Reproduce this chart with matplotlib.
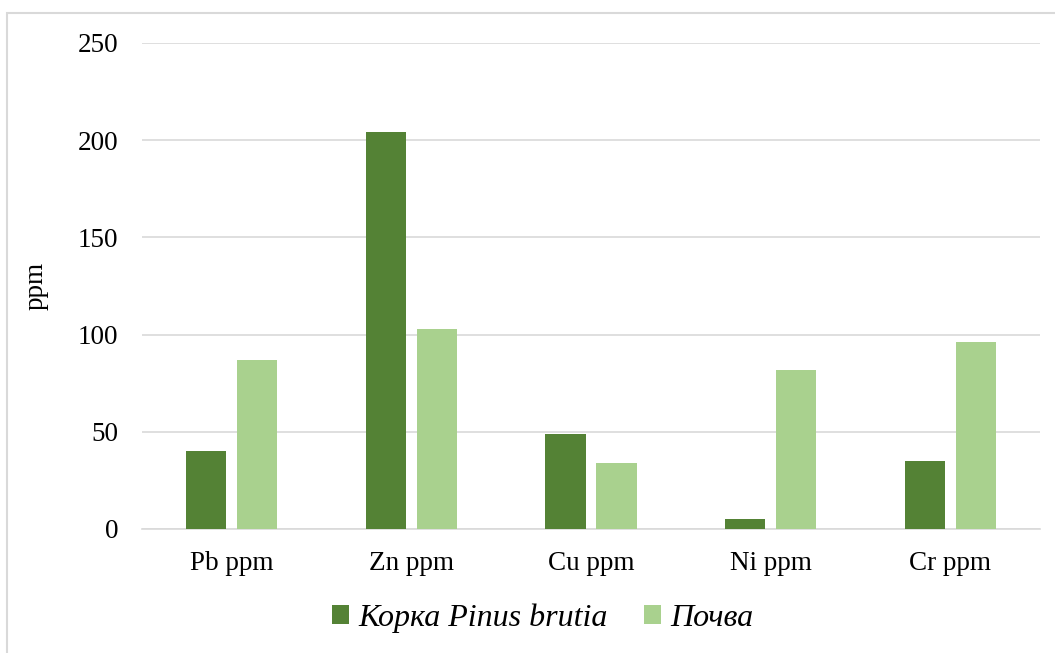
import matplotlib
matplotlib.use("Agg")
import matplotlib.pyplot as plt
from matplotlib.patches import Rectangle
import numpy as np

categories = ["Pb ppm", "Zn ppm", "Cu ppm", "Ni ppm", "Cr ppm"]
bark = [40, 204, 49, 5, 35]
soil = [87, 103, 34, 82, 96]
series_names = ["Корка Pinus brutia", "Почва"]
yticks = [0, 50, 100, 150, 200, 250]

dark = "#548235"
light = "#A9D18E"

plt.rcParams["font.family"] = ["Liberation Serif", "DejaVu Serif"]

fig = plt.figure(figsize=(10.55, 6.53), dpi=100)
W, H = 1055, 653
ax = fig.add_axes([142 / W, 1 - 529 / H, 898 / W, (529 - 43) / H])

# outer chart frame (top and left edges visible)
fig.patches.append(Rectangle((7 / W, -0.05), 1.2, 1 - 13 / H + 0.05,
                             transform=fig.transFigure, fill=False,
                             edgecolor="#d9d9d9", linewidth=1.5))

x = np.arange(len(categories))
bw = 0.223
gap = 0.061
ax.bar(x - (bw + gap) / 2, bark, width=bw, color=dark, label=series_names[0], zorder=3)
ax.bar(x + (bw + gap) / 2, soil, width=bw, color=light, label=series_names[1], zorder=3)

ax.set_xlim(-0.5, len(categories) - 0.5)
ax.set_ylim(0, 250)
ax.set_yticks(yticks)
ax.set_xticks(x)
ax.set_xticklabels(categories)
ax.tick_params(axis="both", length=0, labelsize=19.5, colors="black")
ax.tick_params(axis="x", pad=16)
ax.tick_params(axis="y", pad=17)
ax.grid(axis="y", color="#d9d9d9", linewidth=1.2, zorder=0)
for s in ["top", "right", "left"]:
    ax.spines[s].set_visible(False)
ax.spines["bottom"].set_color("#d9d9d9")
ax.spines["bottom"].set_linewidth(1.2)

ax.set_ylabel("ppm", fontsize=19.5)
ax.yaxis.set_label_coords(-0.104, 0.5)

fig.legend(loc="center", bbox_to_anchor=(543 / W, 1 - 618 / H), ncol=2,
           frameon=False, prop={"style": "italic", "size": 23},
           handlelength=0.52, handleheight=0.52, handletextpad=0.3,
           columnspacing=1.15)

fig.savefig("out.png", dpi=100)
